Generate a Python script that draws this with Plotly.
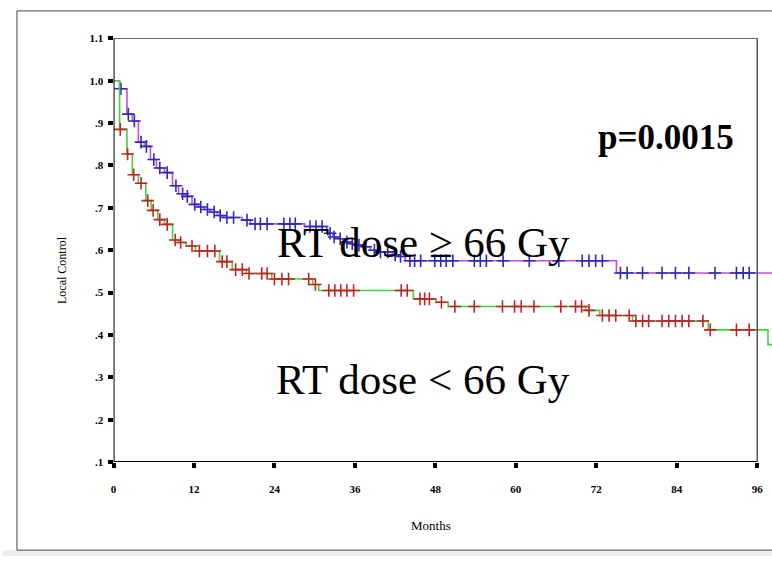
import plotly.graph_objects as go

# ---- data (months, local control) ----
# RT dose >= 66 Gy
event_months_hi = [0.9, 2.0, 2.8, 3.7, 4.6, 5.5, 6.4, 7.6, 8.8, 9.7, 10.7, 11.7, 12.6, 13.5,
                   14.4, 15.5, 16.4, 19.2, 20.4, 28.5, 31.8, 32.7, 33.5, 34.3, 35.2, 36.1,
                   37.1, 38.3, 39.4, 41.6, 42.6, 43.5, 75.0]
event_surv_hi = [0.981, 0.921, 0.905, 0.855, 0.845, 0.814, 0.794, 0.783, 0.752, 0.733, 0.727,
                 0.708, 0.702, 0.696, 0.690, 0.682, 0.677, 0.671, 0.662, 0.656, 0.640, 0.631,
                 0.627, 0.619, 0.615, 0.612, 0.608, 0.600, 0.596, 0.589, 0.585, 0.575, 0.546]
censor_months_hi = [1.1, 2.2, 3.1, 4.1, 4.9, 6.0, 6.9, 8.0, 9.3, 10.3, 11.0, 12.1, 13.0, 14.0,
                    15.0, 15.9, 16.9, 17.9, 19.9, 21.1, 21.9, 22.9, 25.4, 26.3, 27.1, 29.3,
                    30.2, 31.1, 32.3, 32.9, 33.8, 34.8, 35.6, 36.6, 37.6, 38.9, 39.8, 40.9,
                    42.0, 42.8, 44.2, 44.9, 45.8, 47.9, 48.8, 49.6, 50.6, 53.8, 54.7, 55.6,
                    58.1, 62.0, 66.4, 69.9, 70.9, 71.9, 72.9, 75.6, 76.6, 78.9, 81.8, 83.8,
                    85.8, 89.7, 92.9, 93.9, 94.8]
end_month_hi = 98.2

# RT dose < 66 Gy
event_months_lo = [0.9, 2.0, 2.8, 3.7, 4.8, 5.6, 6.6, 7.6, 8.8, 9.7, 10.8, 12.2, 15.8, 17.7,
                   19.8, 23.6, 29.7, 30.6, 44.7, 48.1, 49.9, 70.4, 72.5, 77.4, 88.7, 97.6]
event_surv_lo = [0.885, 0.827, 0.778, 0.758, 0.717, 0.694, 0.672, 0.661, 0.624, 0.618, 0.610,
                 0.598, 0.573, 0.554, 0.545, 0.532, 0.519, 0.505, 0.485, 0.477, 0.467, 0.458,
                 0.446, 0.433, 0.412, 0.377]
censor_months_lo = [1.0, 2.1, 3.0, 4.1, 5.1, 5.9, 6.9, 8.0, 9.2, 10.0, 11.7, 12.8, 14.0, 15.1,
                    16.2, 16.9, 18.2, 19.2, 20.2, 22.1, 22.9, 24.0, 25.1, 26.1, 29.1, 30.1,
                    32.1, 33.0, 33.9, 34.8, 35.8, 42.9, 43.8, 45.7, 46.4, 47.1, 48.9, 50.9,
                    53.8, 58.0, 59.8, 60.8, 62.7, 66.7, 68.9, 69.8, 70.9, 72.9, 73.9, 74.9,
                    76.9, 77.9, 78.9, 79.8, 81.8, 82.8, 83.8, 84.8, 85.8, 87.9, 89.0, 92.9,
                    94.8]
end_month_lo = 98.2

x_ticks = [0, 12, 24, 36, 48, 60, 72, 84, 96]
x_tick_labels = ["0", "12", "24", "36", "48", "60", "72", "84", "96"]
y_ticks = [0.1, 0.2, 0.3, 0.4, 0.5, 0.6, 0.7, 0.8, 0.9, 1.0, 1.1]
y_tick_labels = [".1", ".2", ".3", ".4", ".5", ".6", ".7", ".8", ".9", "1.0", "1.1"]


def level_at(t, ev_t, ev_s):
    s = 1.0
    for et, es in zip(ev_t, ev_s):
        if et <= t:
            s = es
    return s


def step_xy(ev_t, ev_s, end):
    xs = [0.0] + list(ev_t) + [end]
    ys = [1.0] + list(ev_s) + [ev_s[-1]]
    return xs, ys


W, H = 772, 562
fig = go.Figure()

SERIF = "Liberation Serif, Times New Roman, serif"

groups = [
    (event_months_hi, event_surv_hi, censor_months_hi, end_month_hi, "#d048d8", "#2a2ac0"),
    (event_months_lo, event_surv_lo, censor_months_lo, end_month_lo, "#3ed43e", "#c42222"),
]
for ev_t, ev_s, cens, end, lcol, mcol in groups:
    xs, ys = step_xy(ev_t, ev_s, end)
    fig.add_trace(go.Scatter(x=xs, y=ys, mode="lines", line=dict(color=lcol, width=1.6, shape="hv"),
                             showlegend=False, hoverinfo="skip", cliponaxis=True))
    cy = [level_at(t, ev_t, ev_s) for t in cens]
    fig.add_trace(go.Scatter(x=cens, y=cy, mode="markers",
                             marker=dict(symbol="cross-thin", size=9, line=dict(color=mcol, width=1.6)),
                             showlegend=False, hoverinfo="skip"))

x_left, x_right = 111 / W, 1.0
y_bot, y_top = (H - 466) / H, (H - 33) / H

fig.update_xaxes(domain=[x_left, x_right], range=[0, 98.2], tickvals=x_ticks, ticktext=x_tick_labels,
                 ticks="outside", ticklen=5, tickwidth=4, tickcolor="black", showgrid=False,
                 zeroline=False, showline=False, ticklabelstandoff=12,
                 tickfont=dict(family=SERIF, size=11, color="black", weight="bold"))
fig.update_yaxes(domain=[y_bot, y_top], range=[0.1, 1.1], tickvals=y_ticks, ticktext=y_tick_labels,
                 ticks="outside", ticklen=5, tickwidth=4, tickcolor="black", showgrid=False,
                 zeroline=False, showline=False, ticklabelstandoff=2,
                 tickfont=dict(family=SERIF, size=11, color="black", weight="bold"))

# plot frame
fig.add_shape(type="line", x0=0, x1=0, y0=0.1, y1=1.1, xref="x", yref="y",
              line=dict(color="black", width=2))
fig.add_shape(type="line", x0=0, x1=96, y0=0.1, y1=0.1, xref="x", yref="y",
              line=dict(color="black", width=2))
fig.add_shape(type="line", x0=0, x1=96, y0=1.1, y1=1.1, xref="x", yref="y",
              line=dict(color="#333333", width=1.5))
fig.add_shape(type="line", x0=96, x1=96, y0=0.1, y1=1.1, xref="x", yref="y",
              line=dict(color="#555555", width=1.5))

# outer image frame
fig.add_shape(type="rect", x0=14 / W, x1=1.01, y0=(H - 556) / H, y1=(H - 5) / H,
              xref="paper", yref="paper", line=dict(color="#444444", width=1))
fig.add_shape(type="rect", x0=0, x1=1, y0=0, y1=(H - 556) / H, xref="paper", yref="paper",
              line=dict(width=0), fillcolor="#eeeeee", layer="below")

annos = [
    dict(text="Local Control", x=59 / W, y=(H - 270) / H, textangle=-90, font=dict(size=12)),
    dict(text="Months", x=430 / W, y=(H - 531) / H, font=dict(size=13)),
    dict(text="<b>p=0.0015</b>", x=666 / W, y=(H - 134) / H, font=dict(size=35)),
    dict(text="RT dose \u2265 66 Gy", x=422 / W, y=(H - 242) / H, font=dict(size=43)),
    dict(text="RT dose &lt; 66 Gy", x=422 / W, y=(H - 382) / H, font=dict(size=43)),
]
for a in annos:
    a["font"].update(family=SERIF, color="black")
    fig.add_annotation(xref="paper", yref="paper", showarrow=False, xanchor="center",
                       yanchor="middle", **a)

fig.update_layout(width=W, height=H, margin=dict(l=0, r=0, t=0, b=0),
                  paper_bgcolor="white", plot_bgcolor="white", showlegend=False)

fig.write_html("out.html")
